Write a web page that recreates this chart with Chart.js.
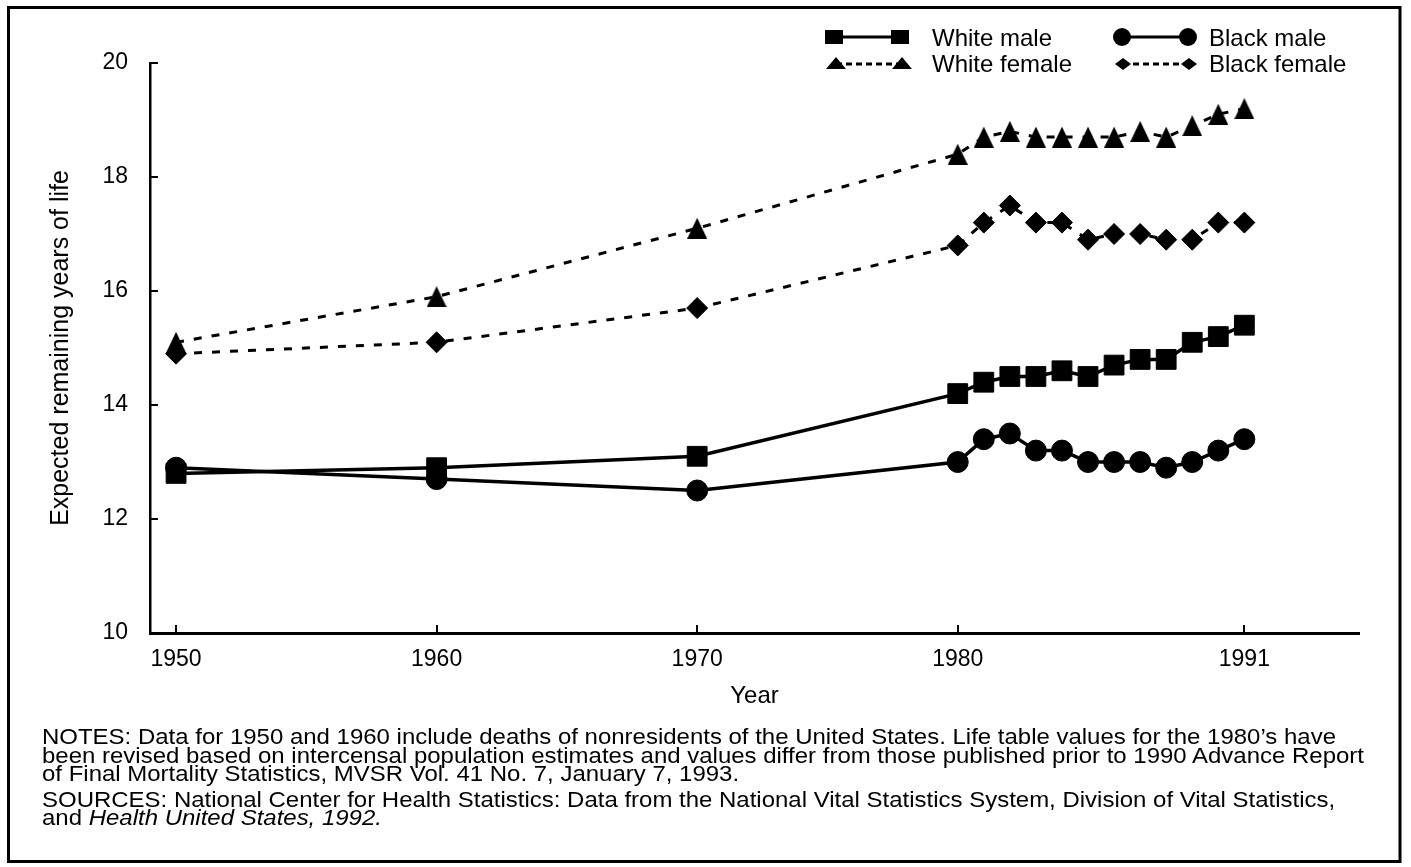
<!DOCTYPE html>
<html>
<head>
<meta charset="utf-8">
<title>Expected remaining years of life at age 65</title>
<script src="https://cdn.jsdelivr.net/npm/chart.js@4.4.0/dist/chart.umd.min.js"></script>
<style>
  html, body { margin: 0; padding: 0; background: #fff; }
  #wrap { position: relative; width: 1411px; height: 867px; overflow: hidden; }
  #chart { position: absolute; left: 0; top: 0; }
  .notes {
    position: absolute; left: 42px; top: 728px;
    font: 22px "Liberation Sans", Arial, Helvetica, sans-serif;
    line-height: 18.5px; color: #000; white-space: nowrap;
    transform: scaleX(1.09); transform-origin: 0 0;
  }
  .notes p { margin: 0; }
  .notes .src { margin-top: 7px; }
</style>
</head>
<body>
<div id="wrap">
  <canvas id="chart" width="1411" height="867"></canvas>
  <div class="notes">
    <p>NOTES: Data for 1950 and 1960 include deaths of nonresidents of the United States. Life table values for the 1980’s have<br>been revised based on intercensal population estimates and values differ from those published prior to 1990 Advance Report<br>of Final Mortality Statistics, MVSR Vol. 41 No. 7, January 7, 1993.</p>
    <p class="src">SOURCES: National Center for Health Statistics: Data from the National Vital Statistics System, Division of Vital Statistics,<br>and <i>Health United States, 1992.</i></p>
  </div>
</div>
<script>
// data
const years = [1950, 1960, 1970, 1980, 1981, 1982, 1983, 1984, 1985, 1986, 1987, 1988, 1989, 1990, 1991];
const whiteMale   = [12.8, 12.9, 13.1, 14.2, 14.4, 14.5, 14.5, 14.6, 14.5, 14.7, 14.8, 14.8, 15.1, 15.2, 15.4];
const blackMale   = [12.9, 12.7, 12.5, 13.0, 13.4, 13.5, 13.2, 13.2, 13.0, 13.0, 13.0, 12.9, 13.0, 13.2, 13.4];
const whiteFemale = [15.1, 15.9, 17.1, 18.4, 18.7, 18.8, 18.7, 18.7, 18.7, 18.7, 18.8, 18.7, 18.9, 19.1, 19.2];
const blackFemale = [14.9, 15.1, 15.7, 16.8, 17.2, 17.5, 17.2, 17.2, 16.9, 17.0, 17.0, 16.9, 16.9, 17.2, 17.2];
const xTickYears = [1950, 1960, 1970, 1980, 1991];
const seriesNames = ['White male', 'White female', 'Black male', 'Black female'];

const FONT = '"Liberation Sans", Arial, Helvetica, sans-serif';
const INK = '#000';

function triangleImg(w, h) {
  const c = document.createElement('canvas');
  c.width = w; c.height = h;
  const g = c.getContext('2d');
  g.fillStyle = INK;
  g.beginPath(); g.moveTo(w / 2, 0); g.lineTo(w, h); g.lineTo(0, h); g.closePath(); g.fill();
  return c;
}

const pts = arr => years.map((x, i) => ({ x, y: arr[i] }));

// legend: line sample with a marker at both ends
function legendMarker(ctx, kind, x, y) {
  ctx.beginPath();
  if (kind === 'square') ctx.rect(x - 9, y - 7, 18, 14);
  else if (kind === 'circle') ctx.arc(x, y, 9, 0, Math.PI * 2);
  else if (kind === 'triangle') { ctx.moveTo(x, y - 7); ctx.lineTo(x + 10, y + 5); ctx.lineTo(x - 10, y + 5); ctx.closePath(); }
  else if (kind === 'diamond') { ctx.moveTo(x - 8, y); ctx.lineTo(x, y - 6); ctx.lineTo(x + 8, y); ctx.lineTo(x, y + 6); ctx.closePath(); }
  ctx.fill();
}

const legendPlugin = {
  id: 'pairLegend',
  afterDraw(chart) {
    const ctx = chart.ctx;
    const items = [
      { name: seriesNames[0], kind: 'square',   dash: [],     x: 834,  y: 37, ty: 46 },
      { name: seriesNames[1], kind: 'triangle', dash: [6, 4], x: 836,  y: 64, ty: 72 },
      { name: seriesNames[2], kind: 'circle',   dash: [],     x: 1122, y: 37, ty: 46 },
      { name: seriesNames[3], kind: 'diamond',  dash: [6, 4], x: 1123, y: 64, ty: 72 }
    ];
    ctx.save();
    ctx.fillStyle = INK; ctx.strokeStyle = INK;
    items.forEach(it => {
      const x2 = it.x + 66;
      ctx.lineWidth = 3;
      ctx.setLineDash(it.dash);
      ctx.beginPath(); ctx.moveTo(it.x, it.y); ctx.lineTo(x2, it.y); ctx.stroke();
      ctx.setLineDash([]);
      legendMarker(ctx, it.kind, it.x, it.y);
      legendMarker(ctx, it.kind, x2, it.y);
      ctx.font = '24px ' + FONT;
      ctx.textBaseline = 'alphabetic';
      ctx.fillText(it.name, it.x < 1000 ? 932 : 1209, it.ty);
    });
    ctx.restore();
  }
};

// inward tick marks and the outer frame
const ticksAndFrame = {
  id: 'ticksAndFrame',
  afterDraw(chart) {
    const { ctx, scales: { x, y } } = chart;
    ctx.save();
    ctx.strokeStyle = INK;
    ctx.lineWidth = 2;
    ctx.beginPath();
    y.ticks.forEach(t => {
      const py = Math.round(y.getPixelForValue(t.value));
      ctx.moveTo(x.left, py); ctx.lineTo(x.left + 8, py);
    });
    x.ticks.forEach(t => {
      const px = Math.round(x.getPixelForValue(t.value));
      ctx.moveTo(px, y.bottom); ctx.lineTo(px, y.bottom - 8);
    });
    ctx.stroke();
    ctx.lineWidth = 3;
    ctx.strokeRect(8.5, 7.5, 1391.5, 854);
    ctx.restore();
  }
};

const common = { borderColor: INK, backgroundColor: INK, pointBorderColor: INK, pointBackgroundColor: INK, pointBorderWidth: 1, tension: 0, fill: false };

new Chart(document.getElementById('chart'), {
  type: 'line',
  data: {
    datasets: [
      { ...common, label: seriesNames[2], data: pts(blackMale),   borderWidth: 3.5, pointStyle: 'circle', pointRadius: 10.5 },
      { ...common, label: seriesNames[0], data: pts(whiteMale),   borderWidth: 3.5, pointStyle: 'rect', pointRadius: 14 },
      { ...common, label: seriesNames[3], data: pts(blackFemale), borderWidth: 3, borderDash: [8, 10], pointStyle: 'rectRot', pointRadius: 10.5 },
      { ...common, label: seriesNames[1], data: pts(whiteFemale), borderWidth: 3, borderDash: [8, 10], pointStyle: triangleImg(20, 21), pointRadius: 10 }
    ]
  },
  options: {
    responsive: false,
    animation: false,
    events: [],
    devicePixelRatio: 1,
    layout: { padding: { top: 63, right: 52, bottom: 154, left: 0 } },
    plugins: { legend: { display: false }, tooltip: { enabled: false } },
    scales: {
      x: {
        type: 'linear', min: 1949, max: 1995.4,
        afterBuildTicks: s => { s.ticks = xTickYears.map(v => ({ value: v })); },
        afterFit: s => { s.height = 80; },
        grid: { display: false, drawTicks: false },
        border: { display: true, color: INK, width: 3 },
        ticks: { color: INK, padding: 13, font: { family: FONT, size: 23 }, callback: v => String(v), maxRotation: 0 },
        title: { display: true, text: 'Year', color: INK, font: { family: FONT, size: 24 }, padding: { top: 0, bottom: 2 } }
      },
      y: {
        min: 10, max: 20,
        ticks: { stepSize: 2, color: INK, padding: 22, font: { family: FONT, size: 23 } },
        afterFit: s => { s.width = 150; },
        grid: { display: false, drawTicks: false },
        border: { display: true, color: INK, width: 2.5 },
        title: { display: true, text: 'Expected remaining years of life', color: INK, font: { family: FONT, size: 25 }, padding: { top: 46, bottom: 0 } }
      }
    }
  },
  plugins: [legendPlugin, ticksAndFrame]
});
</script>
</body>
</html>
